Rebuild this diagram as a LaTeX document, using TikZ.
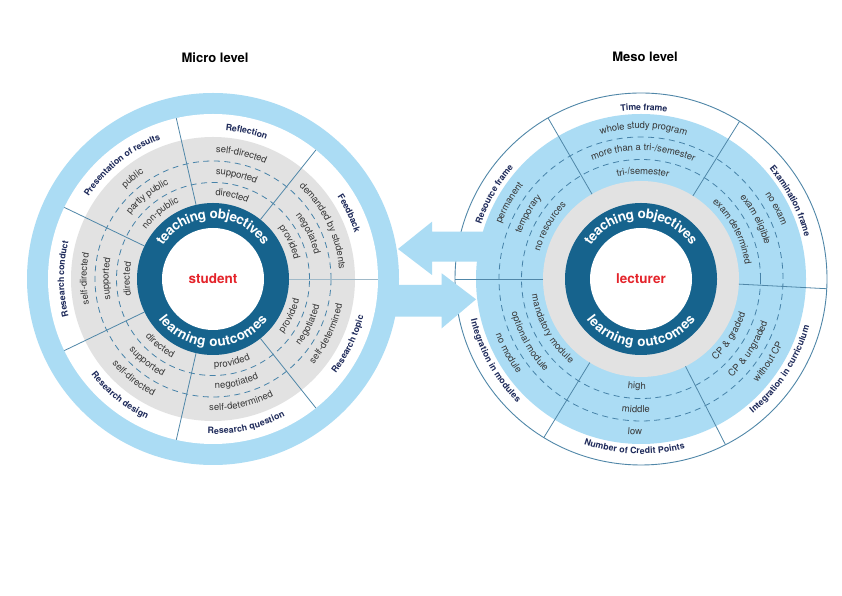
\documentclass[tikz,border=0pt]{standalone}
\usepackage{fontspec}
\setmainfont{TeX Gyre Heros}
\usetikzlibrary{decorations.text}
\definecolor{lb}{RGB}{171,220,244}
\definecolor{grayc}{RGB}{226,226,226}
\definecolor{darkb}{RGB}{22,99,141}
\definecolor{navy}{RGB}{30,42,90}
\definecolor{tgray}{RGB}{55,55,55}
\definecolor{dashc}{RGB}{70,130,168}
\definecolor{linec}{RGB}{80,135,168}
\definecolor{lightline}{RGB}{160,185,200}
\definecolor{redc}{RGB}{228,35,42}
\newcommand\inl{\fontsize{9.5}{11}\selectfont\color{tgray}}
\newcommand\outl{\fontsize{8.8}{10}\selectfont\bfseries\color{navy}}
\newcommand\ringf{\fontsize{13.5}{15}\selectfont\bfseries\color{white}}
\newcommand\Tcw[5]{%
  \path[decorate,decoration={text along path,text align=center,raise=#4,text={#5}}]
    (#1) ++({#2+90}:#3pt) arc[start angle={#2+90},end angle={#2-90},radius=#3pt];}
\newcommand\Tccw[5]{%
  \path[decorate,decoration={text along path,text align=center,raise=#4,text={#5}}]
    (#1) ++({#2-90}:#3pt) arc[start angle={#2-90},end angle={#2+90},radius=#3pt];}
\tikzset{
  dashline/.style={draw=dashc,line width=0.8pt,dash pattern=on 6pt off 4.5pt},
  divline/.style={draw=linec,line width=0.8pt},
  outline/.style={draw=linec,line width=0.9pt},
  title/.style={font=\fontsize{13}{15}\selectfont\bfseries,text=black},
  centre/.style={font=\fontsize{13.5}{15}\selectfont\bfseries,text=redc},
  arrowfill/.style={fill=lb}
}
\begin{document}
\begin{tikzpicture}[x=1pt,y=1pt]
\useasboundingbox (0,0) rectangle (842,596);
\fill[white] (0,0) rectangle (842,596);
\coordinate (L) at (213,317);
\coordinate (R) at (641,317);
% ---------------- left circle ----------------
\fill[lb] (L) circle[radius=186pt];
\fill[white] (L) circle[radius=165pt];
\fill[grayc] (L) circle[radius=142pt];
\draw[dashline] (L) circle[radius=96.5pt];
\draw[dashline] (L) circle[radius=118pt];
\fill[darkb] (L) circle[radius=76pt];
\fill[white] (L) circle[radius=51pt];
\foreach \a in {51.43,102.86,154.29,205.71,257.14,308.57}
  \draw[divline] (L) ++(\a:76pt) -- ++(\a:89pt);
\draw[divline,draw=lightline] (L) ++(0:76pt) -- ++(0:89pt);
% ---------------- right circle ----------------
\draw[outline] (R) circle[radius=186pt];
\fill[lb] (R) circle[radius=165pt];
\draw[dashline] (R) circle[radius=119.5pt];
\draw[dashline] (R) circle[radius=142pt];
\fill[grayc] (R) circle[radius=98pt];
\fill[darkb] (R) circle[radius=76pt];
\fill[white] (R) circle[radius=51pt];
\foreach \a in {180,120,58,-3,-63,-121.5}
  \draw[divline] (R) ++(\a:98pt) -- ++(\a:88pt);
% ---------------- arrows ----------------
\coordinate (atip1) at (398,347);
\coordinate (atip2) at (476,296.7);
\fill[arrowfill] (atip1) -- (432,374.3) -- (432,364.3) -- (486,364.3) -- (486,334.3) -- (432,334.3) -- (432,321) -- cycle;
\fill[arrowfill] (atip2) -- (441.7,322.7) -- (441.7,311) -- (385,311) -- (385,279.3) -- (441.7,279.3) -- (441.7,267.7) -- cycle;
% ---------------- titles ----------------
\node[title] (micro) at (215,538) {Micro level};
\node[title] (meso) at (645,539) {Meso level};
\node[centre] (stud) at (L) {student};
\node[centre] (lect) at (R) {lecturer};
% ---------------- left texts ----------------
\Tcw{L}{90}{64}{-3.8pt}{|\ringf|teaching objectives}
\Tccw{L}{270}{64}{-3.8pt}{|\ringf|learning outcomes}
% Feedback
\Tcw{L}{25.71}{86}{-2.6pt}{|\inl|provided}
\Tcw{L}{25.71}{107}{-2.6pt}{|\inl|negotiated}
\Tcw{L}{25.71}{129}{-2.6pt}{|\inl|demanded by students}
\Tcw{L}{25.71}{152}{-3pt}{|\outl|Feedback}
% Reflection
\Tcw{L}{77.14}{86}{-2.6pt}{|\inl|directed}
\Tcw{L}{77.14}{107}{-2.6pt}{|\inl|supported}
\Tcw{L}{77.14}{129}{-2.6pt}{|\inl|self-directed}
\Tcw{L}{77.14}{152}{-3pt}{|\outl|Reflection}
% Presentation of results
\Tcw{L}{128.57}{86}{-2.6pt}{|\inl|non-public}
\Tcw{L}{128.57}{107}{-2.6pt}{|\inl|partly public}
\Tcw{L}{128.57}{129}{-2.6pt}{|\inl|public}
\Tcw{L}{128.57}{152}{-3pt}{|\outl|Presentation of results}
% Research conduct
\Tcw{L}{180}{86}{-2.6pt}{|\inl|directed}
\Tcw{L}{180}{107}{-2.6pt}{|\inl|supported}
\Tcw{L}{180}{129}{-2.6pt}{|\inl|self-directed}
\Tcw{L}{180}{152}{-3pt}{|\outl|Research conduct}
% Research design
\Tccw{L}{231.43}{86}{-2.6pt}{|\inl|directed}
\Tccw{L}{231.43}{107}{-2.6pt}{|\inl|supported}
\Tccw{L}{231.43}{129}{-2.6pt}{|\inl|self-directed}
\Tccw{L}{231.43}{152}{-3pt}{|\outl|Research design}
% Research question
\Tccw{L}{282.86}{86}{-2.6pt}{|\inl|provided}
\Tccw{L}{282.86}{107}{-2.6pt}{|\inl|negotiated}
\Tccw{L}{282.86}{129}{-2.6pt}{|\inl|self-determined}
\Tccw{L}{282.86}{152}{-3pt}{|\outl|Research question}
% Research topic
\Tccw{L}{334.29}{86}{-2.6pt}{|\inl|provided}
\Tccw{L}{334.29}{107}{-2.6pt}{|\inl|negotiated}
\Tccw{L}{334.29}{129}{-2.6pt}{|\inl|self-determined}
\Tccw{L}{334.29}{152}{-3pt}{|\outl|Research topic}
% ---------------- right texts ----------------
\Tcw{R}{90}{64}{-3.8pt}{|\ringf|teaching objectives}
\Tccw{R}{270}{64}{-3.8pt}{|\ringf|learning outcomes}
% Resource frame
\Tcw{R}{150}{107.5}{-2.6pt}{|\inl|no resources}
\Tcw{R}{150}{131}{-2.6pt}{|\inl|temporary}
\Tcw{R}{150}{153}{-2.6pt}{|\inl|permanent}
\Tcw{R}{150}{172}{-3pt}{|\outl|Resource frame}
% Time frame
\Tcw{R}{89}{107.5}{-2.6pt}{|\inl|tri-/semester}
\Tcw{R}{89}{131}{-2.6pt}{|\inl|more than a tri-/semester}
\Tcw{R}{89}{153}{-2.6pt}{|\inl|whole study program}
\Tcw{R}{89}{172}{-3pt}{|\outl|Time frame}
% Examination frame
\Tcw{R}{27.5}{107.5}{-2.6pt}{|\inl|exam determined}
\Tcw{R}{27.5}{131}{-2.6pt}{|\inl|exam eligible}
\Tcw{R}{27.5}{153}{-2.6pt}{|\inl|no exam}
\Tcw{R}{27.5}{172}{-3pt}{|\outl|Examination frame}
% Integration in curriculum
\Tccw{R}{-33}{107.5}{-2.6pt}{|\inl|CP {\&} graded}
\Tccw{R}{-33}{131}{-2.6pt}{|\inl|CP {\&} ungraded}
\Tccw{R}{-33}{153}{-2.6pt}{|\inl|without CP}
\Tccw{R}{-33}{172}{-3pt}{|\outl|Integration in curriculum}
% Number of Credit Points
\Tccw{R}{-92.25}{107.5}{-2.6pt}{|\inl|high}
\Tccw{R}{-92.25}{131}{-2.6pt}{|\inl|middle}
\Tccw{R}{-92.25}{153}{-2.6pt}{|\inl|low}
\Tccw{R}{-92.25}{172}{-3pt}{|\outl|Number of Credit Points}
% Integration in modules
\Tccw{R}{-150.75}{107.5}{-2.6pt}{|\inl|mandatory module}
\Tccw{R}{-150.75}{131}{-2.6pt}{|\inl|optional module}
\Tccw{R}{-150.75}{153}{-2.6pt}{|\inl|no module}
\Tccw{R}{-150.75}{172}{-3pt}{|\outl|Integration in modules}
\end{tikzpicture}
\end{document}
